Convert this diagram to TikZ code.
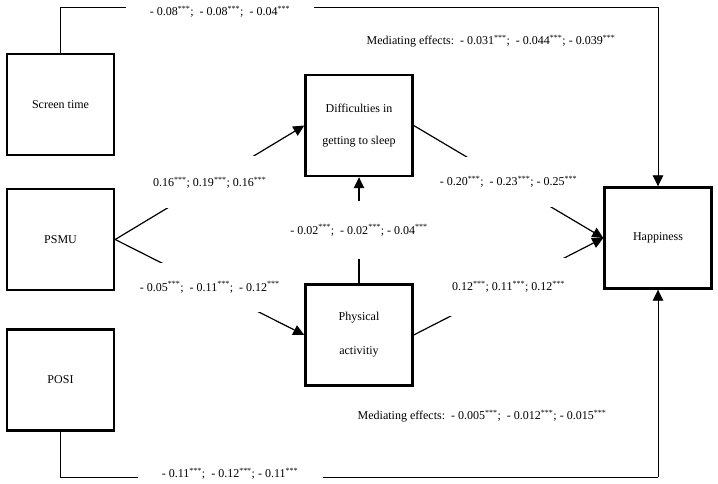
\documentclass[tikz,border=0pt]{standalone}
\usepackage{fontspec}
\setmainfont{Liberation Serif}
\usetikzlibrary{arrows.meta, positioning}

\newcommand{\stars}{\textsuperscript{***}}
\newcommand{\wsp}{\hspace{6pt}}

\begin{document}
\begin{tikzpicture}[x=1pt, y=-1pt,
                    font=\fontsize{12}{13.5}\selectfont,
                    var/.style={draw, line width=2.4pt, minimum width=107pt, minimum height=101pt, align=center},
                    coef/.style={fill=white, inner sep=2pt, minimum height=52pt},
                    link/.style={line width=1.2pt},
                    loop/.style={line width=0.9pt},
                    arr/.style={-{Triangle[length=11pt, width=10.5pt]}}]
                    \useasboundingbox (0, 0) rectangle (718, 484);

                    \node[var] (screen) at (60.5, 104.5) {Screen time};
                    \node[var] (psmu) at (60.5, 239.5) {PSMU};
                    \node[var] (posi) at (60.5, 380) {POSI};
                    \node[var] (sleep) at (359, 125.5) {Difficulties in\\[18.5pt]getting to sleep};
                    \node[var] (phys) at (359, 335) {Physical\\[20.5pt]activitiy};
                    \node[var] (happy) at (658, 238) {Happiness};

                    \coordinate (tl) at (60.5, 7);
                    \coordinate (tr) at (658, 7);
                    \coordinate (bl) at (60.5, 477);
                    \coordinate (br) at (658, 477);

                    \draw[loop]
                    (screen.north) -- (tl) -- (tr) edge[arr] (happy.north)
                    (posi.south) -- (bl) -- (br) edge[arr] (happy.south);

                    \node[fill=white, minimum width=188pt, minimum height=16pt] (direct1) at (220, 12) {- 0.08\stars;\wsp - 0.08\stars;\wsp - 0.04\stars};
                    \node[fill=white, minimum width=185pt, minimum height=16pt] (direct2) at (230, 474) {- 0.11\stars;\wsp - 0.12\stars; - 0.11\stars};

                    \draw[link]
                    (psmu.east) edge[arr] node[coef] {0.16\stars; 0.19\stars; 0.16\stars} (sleep.west)
                    (psmu.east) edge[arr] node[coef, minimum height=49pt] {- 0.05\stars;\wsp - 0.11\stars;\wsp - 0.12\stars} (phys.west)
                    (phys.north) edge[arr] node[coef, minimum height=58pt] {- 0.02\stars;\wsp - 0.02\stars; - 0.04\stars} (sleep.south)
                    (sleep.east) edge[arr] node[coef, minimum height=50pt] {- 0.20\stars;\wsp - 0.23\stars; - 0.25\stars} (happy.west)
                    (phys.east) edge[arr] node[coef, minimum height=58pt] {0.12\stars; 0.11\stars; 0.12\stars} (happy.west);

                    \node[] (med1) at (491, 41) {Mediating effects:\wsp - 0.031\stars;\wsp - 0.044\stars; - 0.039\stars};
                    \node[] (med2) at (482, 416) {Mediating effects:\wsp - 0.005\stars;\wsp - 0.012\stars; - 0.015\stars};
                \end{tikzpicture}
\end{document}
